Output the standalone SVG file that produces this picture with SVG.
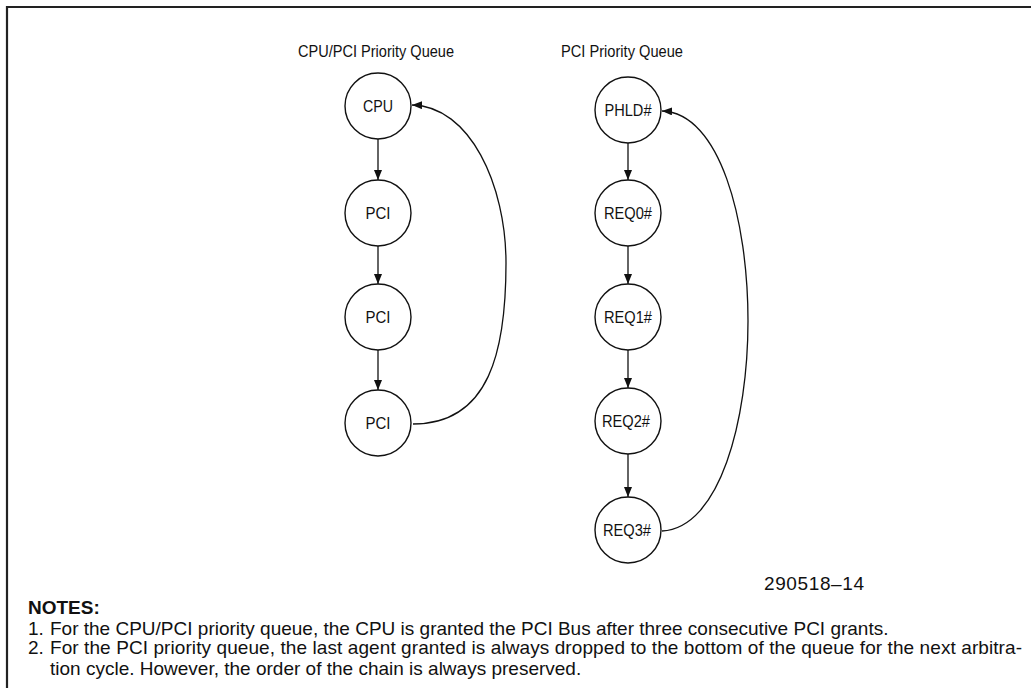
<svg xmlns="http://www.w3.org/2000/svg" width="1031" height="688" viewBox="0 0 1031 688">
<style>
.node circle{fill:#fff;stroke:#111;stroke-width:1.4}
.lbl{font-family:"Liberation Sans",Arial,sans-serif;font-size:16.5px;fill:#111;text-anchor:middle}
.edge{fill:none;stroke:#111;stroke-width:1.3}
.note{font-family:"Liberation Sans",Arial,sans-serif;font-size:19px;fill:#111}
</style>
<defs>
<marker id="ah" viewBox="0 0 10 8" refX="10" refY="4" markerWidth="10" markerHeight="8" markerUnits="userSpaceOnUse" orient="auto">
<path d="M0,0 L10,4 L0,8 Z" fill="#111"/>
</marker>
</defs>
<rect width="1031" height="688" fill="#fff"/>
<path d="M7,688 V7 H1031" fill="none" stroke="#222" stroke-width="2.2"/>

<text class="lbl" x="376" y="57" textLength="156" lengthAdjust="spacingAndGlyphs">CPU/PCI Priority Queue</text>
<text class="lbl" x="622" y="57" textLength="122" lengthAdjust="spacingAndGlyphs">PCI Priority Queue</text>

<g id="cpu" class="node"><circle cx="378" cy="106" r="33"/><text class="lbl" x="378" y="112" textLength="30" lengthAdjust="spacingAndGlyphs">CPU</text></g>
<g id="pci1" class="node"><circle cx="378" cy="213" r="33"/><text class="lbl" x="378" y="219" textLength="25" lengthAdjust="spacingAndGlyphs">PCI</text></g>
<g id="pci2" class="node"><circle cx="378" cy="317" r="33"/><text class="lbl" x="378" y="323" textLength="25" lengthAdjust="spacingAndGlyphs">PCI</text></g>
<g id="pci3" class="node"><circle cx="378" cy="423" r="33"/><text class="lbl" x="378" y="429" textLength="25" lengthAdjust="spacingAndGlyphs">PCI</text></g>

<g id="phld" class="node"><circle cx="628" cy="110" r="33"/><text class="lbl" x="628" y="116" textLength="47" lengthAdjust="spacingAndGlyphs">PHLD#</text></g>
<g id="req0" class="node"><circle cx="628" cy="213" r="33"/><text class="lbl" x="628" y="219" textLength="48" lengthAdjust="spacingAndGlyphs">REQ0#</text></g>
<g id="req1" class="node"><circle cx="628" cy="317" r="33"/><text class="lbl" x="628" y="323" textLength="48" lengthAdjust="spacingAndGlyphs">REQ1#</text></g>
<g id="req2" class="node"><circle cx="628" cy="421" r="33"/><text class="lbl" x="626" y="427" textLength="48" lengthAdjust="spacingAndGlyphs">REQ2#</text></g>
<g id="req3" class="node"><circle cx="628" cy="530" r="33"/><text class="lbl" x="627" y="536" textLength="48" lengthAdjust="spacingAndGlyphs">REQ3#</text></g>

<g id="connectors">
<path class="edge" marker-end="url(#ah)" d="M378,139 V180"/>
<path class="edge" marker-end="url(#ah)" d="M378,246 V284"/>
<path class="edge" marker-end="url(#ah)" d="M378,350 V390"/>
<path class="edge" marker-end="url(#ah)" d="M413,424 C490,424 506,350 506,263 C506,185 470,106 412,105"/>
<path class="edge" marker-end="url(#ah)" d="M628,143 V180"/>
<path class="edge" marker-end="url(#ah)" d="M628,246 V284"/>
<path class="edge" marker-end="url(#ah)" d="M628,350 V388"/>
<path class="edge" marker-end="url(#ah)" d="M628,454 V497"/>
<path class="edge" marker-end="url(#ah)" d="M662,531 C720,528 748,420 748,321 C748,220 720,113 662,111"/>
</g>

<text class="note" x="764" y="590" textLength="100" lengthAdjust="spacing">290518–14</text>
<text class="note" x="28" y="614" font-weight="bold">NOTES:</text>
<text class="note" x="28" y="635">1.</text>
<text class="note" x="50" y="635">For the CPU/PCI priority queue, the CPU is granted the PCI Bus after three consecutive PCI grants.</text>
<text class="note" x="28" y="654">2.</text>
<text class="note" x="50" y="654" textLength="972" lengthAdjust="spacing">For the PCI priority queue, the last agent granted is always dropped to the bottom of the queue for the next arbitra-</text>
<text class="note" x="50" y="675">tion cycle. However, the order of the chain is always preserved.</text>
</svg>
